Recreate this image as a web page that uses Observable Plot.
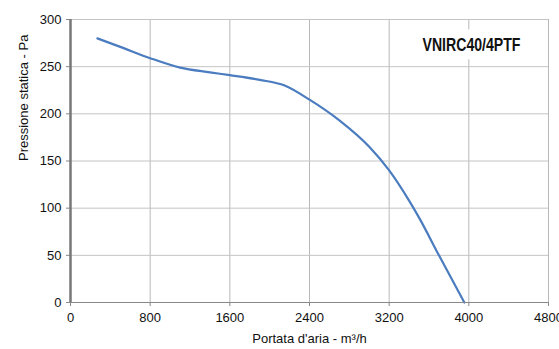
<!DOCTYPE html>
<html><head><meta charset="utf-8">
<script src="https://cdn.jsdelivr.net/npm/d3@7"></script>
<script src="https://cdn.jsdelivr.net/npm/@observablehq/plot@0.6"></script>
<style>
body{margin:0;background:#fff;}
#chart svg{display:block;}
</style>
</head><body><div id="chart"></div>
<script>
const flow = [270, 500, 800, 1100, 1400, 1600, 1900, 2150, 2400, 2700, 3000, 3200, 3400, 3500, 3700, 3955];
const pressure = [280, 271, 259, 249, 244, 241, 236, 230, 215, 193, 165, 140, 108, 90, 50, 0];
const xTicks = [0, 800, 1600, 2400, 3200, 4000, 4800];
const yTicks = [0, 50, 100, 150, 200, 250, 300];
const title = ["VNIRC40/4PTF"];
const xLabel = "Portata d'aria - m³/h";
const yLabel = "Pressione statica - Pa";

const data = flow.map((f, i) => ({f, p: pressure[i]}));

const chart = Plot.plot({
  width: 559, height: 349,
  marginLeft: 70, marginRight: 11, marginTop: 19, marginBottom: 47,
  style: {fontFamily: "'Liberation Sans', Arial, sans-serif", fontSize: "13px", color: "#111", background: "#fff"},
  x: {domain: [0, 4800], ticks: xTicks, tickSize: 4, tickPadding: 5, label: null, tickFormat: d => String(d)},
  y: {domain: [0, 300], ticks: yTicks, tickSize: 4, tickPadding: 5, label: null},
  marks: [
    Plot.gridX(xTicks, {stroke: "#b8b8b8", strokeOpacity: 1, strokeWidth: 1}),
    Plot.gridY(yTicks, {stroke: "#c4c4c4", strokeOpacity: 1, strokeWidth: 1}),
    Plot.ruleX([4800], {stroke: "#b8b8b8"}),
    Plot.text(title, {frameAnchor: "top-right", dx: -28, dy: 19, text: d => d, fontFamily: "'Liberation Sans', Arial, sans-serif", fontWeight: "bold", fontSize: 18, fill: "#111", stroke: "white", strokeWidth: 18, className: "ttl"}),
    Plot.line(data, {x: "f", y: "p", stroke: "#4a7cbf", strokeWidth: 2.2, curve: "monotone-x"}),
    Plot.axisX({ticks: xTicks, tickSize: 4, tickPadding: 6, stroke: "#888", fill: "#111", tickFormat: d => String(d), label: null}),
    Plot.axisY({ticks: yTicks, tickSize: 4, tickPadding: 5, stroke: "#888", fill: "#111", label: null}),
    Plot.ruleY([0], {stroke: "#888", strokeWidth: 1.2}),
    Plot.ruleX([0], {stroke: "#777", strokeWidth: 2.5}),
    Plot.text([xLabel], {frameAnchor: "bottom", dy: 40, text: d => d, fontSize: 13, fill: "#111"}),
    Plot.text([yLabel], {frameAnchor: "left", dx: -47, rotate: -90, text: d => d, fontSize: 13, fill: "#111"})
  ]
});
d3.select(chart).selectAll("g.ttl text").attr("textLength", 98).attr("lengthAdjust", "spacingAndGlyphs");
document.getElementById("chart").append(chart);
</script>
</body></html>
